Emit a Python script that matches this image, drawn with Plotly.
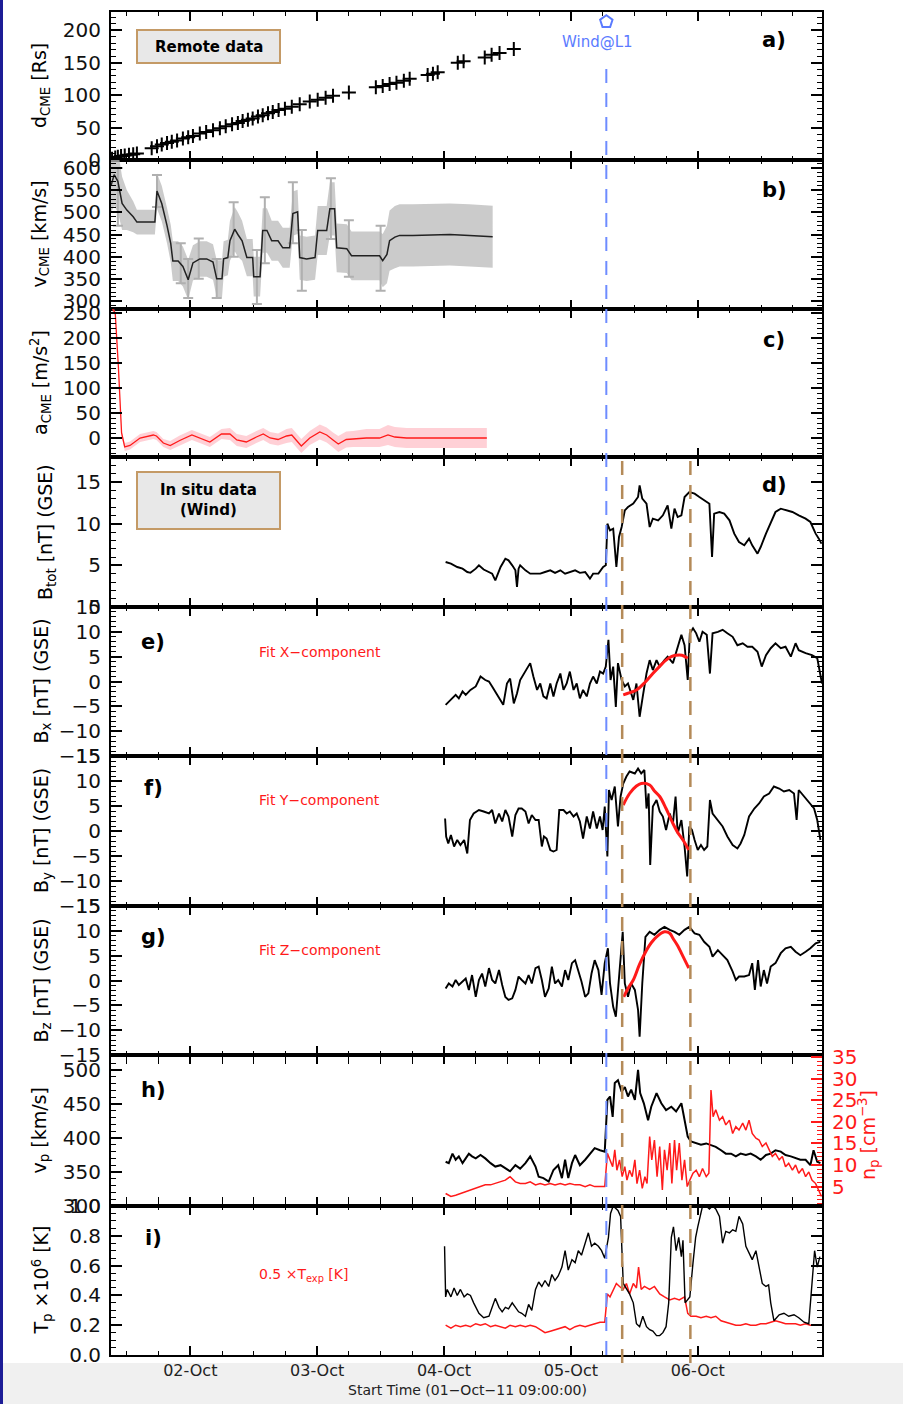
import plotly.graph_objects as go
import pandas as pd

# ---------------- time bases ----------------
START = pd.Timestamp("2011-10-01 09:00")
END = pd.Timestamp("2011-10-06 23:30")
INSITU0 = pd.Timestamp("2011-10-04 00:00")

# ---------------- panel a: CME distance (hours since START) ----------------
A_HOURS = [0.2, 0.8, 1.3, 1.9, 2.6, 3.4, 4.2, 4.9, 7.7, 8.7, 9.6, 10.6, 11.5, 12.5, 13.6, 14.6, 15.5,
           16.8, 18.0, 19.3, 20.6, 21.7, 22.9, 24.0, 24.9, 25.9, 26.8, 27.8, 28.7, 29.7, 30.6, 31.7,
           32.9, 34.2, 35.7, 37.6, 39.1, 40.6, 42.0, 45.0, 50.1, 51.4, 52.7, 54.0, 55.4, 56.5, 59.9,
           60.9, 61.8, 65.6, 66.7, 70.7, 72.0, 73.5, 76.2]
A_DIST = [2, 4, 5, 6, 7, 8, 9, 10, 18, 21, 24, 26, 28, 30, 33, 35, 37, 41, 43, 46, 49, 52, 55, 57, 60,
          62, 64, 67, 69, 72, 74, 77, 79, 82, 86, 90, 93, 96, 99, 104, 112, 114, 117, 119, 122, 125,
          131, 133, 135, 150, 152, 158, 162, 165, 171]

# ---------------- panel b: CME speed ----------------
B_HOURS = [0, 0.6, 1.3, 2.1, 3.0, 4.2, 4.9, 8.3, 8.7, 9.6, 10.6, 11.3, 11.7, 12.7, 13.6, 14.6, 15.5,
           16.8, 18.1, 19.3, 20.0, 21.0, 21.3, 22.1, 22.5, 23.4, 24.0, 24.8, 25.7, 26.8, 27.0, 28.2,
           28.7, 29.5, 30.4, 31.6, 32.5, 33.8, 34.4, 35.3, 35.7, 37.0, 38.6, 39.1, 40.8, 41.4, 42.3,
           42.7, 44.6, 45.5, 50.8, 51.4, 52.2, 52.7, 53.7, 54.6, 57.1, 64.1, 67.8, 72.2]
B_SPEED = [560, 585, 570, 520, 505, 490, 478, 478, 548, 520, 470, 430, 390, 390, 378, 348, 386,
           395, 395, 388, 350, 350, 395, 398, 436, 462, 450, 436, 398, 398, 355, 355,
           459, 459, 436, 436, 420, 420, 497, 501, 398, 395, 398, 459, 459, 508, 508,
           420, 418, 402, 402, 391, 405, 436, 444, 448, 448, 450, 448, 445]
B_ERR = [60, 70, 70, 60, 45, 35, 28, 28, 40, 40, 40, 42, 45, 45, 45, 45, 40,
         40, 40, 40, 42, 42, 40, 40, 45, 50, 50, 45, 42, 42, 45, 45,
         50, 50, 45, 45, 45, 45, 50, 50, 50, 50, 50, 55, 55, 60, 60,
         55, 55, 55, 55, 60, 65, 68, 70, 70, 70, 70, 70, 70]
W_HOURS = [1.3, 8.7, 13.2, 14.6, 16.6, 20.0, 23.2, 27.6, 29.1, 34.4, 36.1, 41.6, 45.0, 51.0]
W_CENTER = [570, 548, 385, 350, 395, 350, 460, 355, 459, 497, 398, 508, 418, 400]
W_HIGH = [600, 584, 430, 395, 441, 395, 523, 415, 534, 568, 460, 577, 482, 470]
W_LOW = [470, 512, 340, 307, 350, 307, 400, 293, 385, 430, 323, 440, 355, 323]

# ---------------- panel c: CME acceleration ----------------
C_HOURS = [0.3, 0.8, 1.4, 2.0, 2.6, 3.6, 5.5, 8.0, 8.6, 9.9, 11.2, 13.0, 15.3, 16.8, 18.7, 20.9,
           22.5, 23.8, 25.6, 27.5, 28.8, 30.1, 31.6, 33.2, 34.2, 36.0, 37.6, 39.5, 40.8, 42.0, 43.0,
           44.5, 45.8, 48.3, 50.8, 52.4, 53.7, 55.9, 60.0, 65.0, 71.1]
C_ACC = [258, 250, 142, 10, -18, -15, 0, 6, 4, -10, -15, -5, 6, 0, -8, 8,
         8, -4, -8, 2, 8, 0, -3, 4, 6, -16, 0, 12, 6, -4, -12,
         -3, -2, 0, 0, 6, 2, 0, 0, 0, 0]
C_ERR = [5, 5, 5, 6, 8, 8, 8, 8, 8, 8, 9, 10, 10, 10, 10, 10, 12, 12, 12, 12,
         12, 12, 12, 14, 14, 14, 14, 15, 15, 15, 16, 16, 16, 18, 18, 20, 20, 20, 20, 20, 20]

# ---------------- in situ (hours since 04-Oct 00:00) ----------------
D_HOURS = [0.3, 1.3, 2.5, 3.5, 4.4, 5.0, 6.0, 6.6, 7.5, 8.5, 9.1, 9.7, 10.7, 11.6, 12.2, 12.9, 13.5,
           13.8, 14.1, 14.4, 15.4, 16.3, 17.3, 18.2, 19.1, 20.1, 21.0, 22.0, 22.9, 23.8, 24.8, 25.7,
           26.7, 27.6, 28.2, 29.2, 30.1, 30.6, 30.9, 31.4, 32.0, 32.6, 33.1, 33.6, 34.2, 34.8, 35.8,
           36.7, 37.0, 37.5, 38.3, 38.9, 39.5, 40.5, 41.4, 42.3, 43.0, 43.6, 44.2, 44.9, 45.5, 46.4,
           47.4, 48.3, 49.2, 50.2, 50.7, 51.1, 52.1, 53.0, 54.0, 54.9, 55.8, 56.8, 57.7, 58.3, 59.3,
           59.9, 60.9, 61.8, 62.7, 63.7, 64.6, 65.9, 67.1, 68.4, 69.3, 70.3, 70.9, 71.4]
D_BTOT = [5.4, 5.2, 4.8, 4.6, 4.2, 4.1, 4.6, 5.0, 4.5, 4.2, 4.0, 3.2, 4.8, 5.8, 5.6, 5.0, 4.4,
          2.4, 4.6, 5.0, 4.4, 4.0, 4.0, 4.0, 4.2, 4.4, 4.1, 4.4, 4.0, 4.2, 4.4, 4.1,
          4.2, 3.4, 4.0, 4.0, 4.8, 5.0, 10.0, 9.2, 9.4, 4.8, 8.4, 9.6, 11.6, 12.0, 12.4,
          13.2, 14.6, 13.0, 12.4, 9.6, 10.6, 10.4, 11.0, 12.2, 9.4, 11.8, 10.8, 11.0, 13.2, 13.8,
          13.6, 13.2, 12.8, 12.4, 6.0, 11.2, 11.4, 11.2, 10.4, 8.8, 7.8, 7.4, 8.2, 7.4, 6.4,
          7.2, 8.8, 10.0, 11.4, 11.8, 11.6, 11.4, 11.0, 10.6, 10.2, 8.8, 8.2, 7.6]

E_HOURS = [0.3, 0.9, 1.6, 2.2, 2.8, 3.5, 4.1, 5.0, 6.0, 6.9, 7.8, 8.5, 9.1, 9.7, 10.4, 11.2, 11.9,
           12.5, 13.2, 13.8, 14.4, 15.4, 16.3, 16.9, 17.6, 18.2, 18.8, 19.4, 20.1, 20.7, 21.3, 22.0,
           22.6, 23.2, 23.8, 24.5, 25.1, 25.7, 26.3, 27.0, 27.6, 28.2, 28.9, 29.5, 30.1, 30.6, 31.1,
           31.5, 32.0, 32.5, 32.9, 33.6, 34.2, 34.8, 35.8, 36.4, 37.0, 37.6, 38.3, 38.9, 39.5, 40.2,
           40.8, 41.7, 42.3, 43.3, 44.2, 44.9, 45.5, 46.1, 46.5, 47.1, 47.7, 48.3, 48.9, 49.7, 50.3,
           50.8, 51.8, 52.7, 53.6, 54.6, 55.5, 56.5, 57.4, 58.3, 59.3, 60.1, 60.9, 61.8, 62.7, 63.7,
           64.6, 65.6, 66.5, 67.1, 68.4, 69.6, 70.6, 71.2, 71.5]
E_BX = [-4.7, -4.1, -3.4, -2.7, -3.4, -2.0, -2.7, -1.7, -1.0, 1.0, 0.3, 0.0, -1.0, -2.0, -3.4, -4.7, -0.4,
        0.6, -4.4, -2.4, 0.3, 2.0, 3.7, 1.0, -1.7, -0.4, -3.0, -3.4, -0.4, -3.0, -0.4, 1.6,
        -1.7, -0.4, 2.0, -1.7, -0.4, -3.4, -1.7, -3.0, -0.4, 1.0, -0.4, 2.0, 1.6, 3.0, 8.4,
        0.3, 3.0, -5.1, 3.7, 0.3, -1.0, -0.4, -3.7, -0.4, -7.1, -3.0, 1.6, 4.3, 2.3, 4.3,
        3.0, 4.3, 5.0, 3.7, 7.0, 9.4, 7.3, 0.3, 9.7, 10.7, 9.7, 8.0, 10.0, 9.4, 1.6,
        9.7, 10.0, 10.4, 9.7, 9.0, 7.3, 7.7, 7.0, 7.0, 6.0, 3.0, 5.3, 6.7, 7.7, 6.7,
        7.0, 5.0, 7.7, 6.3, 5.7, 5.3, 4.7, 1.0, -0.4]

F_HOURS = [0.2, 0.4, 0.8, 1.3, 1.9, 2.5, 3.1, 3.8, 4.4, 4.9, 5.6, 6.6, 7.5, 8.5, 9.1, 9.7, 10.4,
           11.0, 11.6, 12.2, 12.9, 13.5, 14.1, 14.7, 15.4, 16.0, 16.6, 17.3, 17.9, 18.5, 18.9, 19.4,
           20.1, 20.7, 21.3, 21.8, 22.6, 23.2, 23.8, 24.5, 25.1, 25.7, 26.3, 27.0, 27.6, 28.2, 28.9,
           29.5, 30.0, 30.4, 30.9, 31.2, 31.7, 32.3, 32.9, 33.4, 33.9, 34.5, 35.1, 36.1, 36.7, 37.3,
           37.9, 38.3, 38.7, 39.0, 39.5, 40.2, 40.8, 41.4, 42.0, 42.7, 43.3, 43.8, 44.2, 44.9, 45.5,
           46.0, 46.4, 46.9, 47.4, 48.0, 48.6, 49.2, 49.8, 50.3, 50.8, 51.8, 52.7, 53.6, 54.6, 55.5,
           56.1, 56.8, 57.7, 58.7, 59.6, 60.5, 61.5, 62.4, 63.4, 64.3, 65.3, 66.2, 66.7, 67.1, 68.1,
           69.0, 70.0, 70.6, 71.2]
F_BY = [2.5, -1.1, -2.5, -0.8, -3.1, -1.8, -2.8, -1.8, -4.5, 2.2, 3.5, 4.2, 3.9, 3.5, 4.2, 1.5, 3.5,
        1.9, 4.2, 2.9, -1.1, 3.2, 4.5, 4.5, 3.9, 1.5, 3.2, 2.2, 2.2, -3.1, -1.1, -1.5,
        -3.8, -4.1, -3.8, 4.2, 4.2, 3.5, 3.9, 2.9, 3.5, 1.9, -1.5, 2.9, 0.5, 3.9, 0.5,
        2.9, 0.2, 4.9, -5.1, 8.2, 6.2, 8.9, 0.9, 6.9, 9.5, 10.9, 11.9, 11.5, 12.5, 11.5,
        12.2, 4.5, 7.5, -6.8, 4.9, 6.2, 3.9, 2.9, 0.2, 3.5, 1.5, 6.9, -0.5, 2.2, -3.1,
        -9.1, 0.9, 0.2, -1.8, -3.8, -2.8, -3.8, -3.1, 6.2, 3.5, 2.2, 0.9, -1.1, -2.8, -3.5,
        -2.5, -0.8, 2.9, 4.5, 5.5, 6.9, 7.5, 8.9, 8.5, 7.9, 8.2, 7.5, 2.2, 8.2, 6.9,
        5.9, 4.5, 2.2, -1.8]

G_HOURS = [0.3, 0.9, 1.6, 2.2, 2.8, 3.5, 4.1, 4.7, 5.3, 6.0, 6.6, 7.2, 7.8, 8.5, 9.1, 9.7, 10.4,
           11.0, 11.6, 12.2, 12.9, 13.5, 14.1, 14.7, 15.4, 16.0, 16.6, 17.3, 17.9, 18.5, 19.1, 19.8,
           20.4, 21.0, 21.6, 22.3, 22.9, 23.5, 24.2, 24.8, 25.4, 26.0, 26.7, 27.3, 27.9, 28.5, 29.2,
           29.8, 30.4, 31.0, 31.4, 32.0, 32.5, 32.9, 33.4, 33.8, 34.2, 34.8, 35.4, 36.1, 36.7, 37.0,
           37.5, 38.1, 38.9, 39.8, 40.8, 41.7, 42.7, 43.6, 44.5, 45.5, 46.4, 47.4, 48.3, 49.2, 50.2,
           50.8, 51.8, 52.7, 53.6, 54.6, 55.2, 55.8, 56.8, 57.7, 58.3, 58.8, 59.4, 59.9, 60.5, 61.1,
           61.8, 62.7, 63.7, 64.6, 65.6, 66.5, 67.4, 68.4, 69.3, 70.3, 71.2]
G_BZ = [-1.6, -0.6, -1.2, 0.1, -0.9, -0.2, 0.4, -1.9, 1.1, -3.3, 0.1, 1.4, -1.2, 2.5, 0.1, -0.6, 2.1,
        -0.9, -3.3, -3.9, -3.6, -1.9, 0.8, 0.1, -0.6, 1.1, -0.6, 2.5, 2.8, 0.1, -3.3, -1.6,
        2.8, -0.6, 0.1, -1.2, 2.1, 0.1, 3.5, 4.1, 2.1, -0.2, -3.3, -2.6, 1.4, 4.1, 2.1,
        -2.9, 3.5, 6.5, -0.6, -5.3, -7.3, -1.9, 4.5, 9.8, -0.6, -3.3, -0.6, -1.9, -5.9, -11.3,
        -0.6, 8.8, 9.8, 9.2, 10.2, 10.8, 10.2, 9.8, 9.2, 10.2, 10.8, 9.5, 9.2, 7.8, 6.8,
        4.8, 6.1, 5.1, 4.1, 1.8, 0.1, 0.8, 0.8, 1.1, 3.5, -1.9, 4.1, -1.2, 2.1, -0.6,
        2.8, 3.5, 5.5, 6.5, 6.8, 5.8, 5.1, 5.8, 6.5, 7.5, 7.8]

FITX_HOURS = [33.9, 35.0, 36.4, 38.0, 39.5, 41.0, 42.0, 43.0, 43.9, 45.0, 46.1]
FITX_BX = [-2.7, -2.3, -1.7, -0.2, 1.6, 3.3, 4.3, 5.0, 5.3, 5.3, 4.7]
FITY_HOURS = [33.9, 35.1, 36.4, 37.3, 38.9, 39.8, 40.8, 42.0, 43.3, 44.2, 45.2, 46.3]
FITY_BY = [5.2, 7.5, 9.0, 9.5, 9.2, 8.0, 6.9, 4.5, 1.5, -0.3, -1.8, -3.8]
FITZ_HOURS = [34.0, 34.8, 35.8, 37.0, 38.3, 39.2, 40.2, 41.7, 42.7, 43.3, 44.2, 44.9, 46.3]
FITZ_BZ = [-3.3, -1.6, 0.1, 3.3, 6.1, 7.6, 8.8, 9.8, 9.5, 8.5, 7.0, 5.5, 2.5]

H_HOURS = [0.3, 0.9, 1.6, 2.2, 2.8, 3.5, 4.1, 4.7, 5.3, 6.0, 6.9, 7.8, 8.8, 9.7, 10.7, 11.6, 12.5,
           13.5, 14.4, 15.4, 16.3, 17.3, 17.9, 18.8, 19.8, 20.7, 21.6, 22.3, 22.9, 23.5, 24.2, 24.8,
           25.7, 26.7, 27.6, 28.5, 29.5, 30.4, 30.9, 31.4, 31.9, 32.3, 32.9, 33.6, 34.2, 34.8, 35.4,
           36.1, 36.7, 37.1, 37.8, 38.6, 39.2, 40.2, 41.1, 42.0, 43.0, 43.9, 44.9, 45.5, 46.1, 46.7,
           47.7, 48.6, 49.6, 50.5, 51.4, 52.4, 53.3, 54.3, 55.2, 56.1, 57.1, 58.0, 59.0, 59.9, 60.9,
           61.8, 62.7, 63.7, 64.6, 65.6, 66.5, 67.4, 68.4, 69.3, 69.9, 70.6, 71.2]
H_VP = [365, 363, 377, 368, 373, 363, 370, 377, 373, 370, 375, 370, 363, 358, 360, 355, 351,
        360, 355, 363, 373, 358, 343, 341, 336, 353, 360, 341, 368, 341, 363, 375,
        360, 368, 377, 385, 382, 380, 456, 461, 431, 481, 485, 468, 475, 461, 471,
        456, 500, 466, 451, 426, 446, 466, 451, 441, 446, 439, 451, 429, 402, 395,
        392, 390, 392, 390, 387, 382, 377, 377, 373, 377, 375, 377, 373, 368, 375,
        377, 382, 380, 375, 373, 370, 368, 368, 360, 382, 365, 363]

N_HOURS = [0.3, 1.3, 2.2, 3.1, 4.1, 5.0, 6.0, 6.9, 7.8, 8.8, 9.7, 10.7, 11.6, 12.5, 13.5, 14.4, 15.4,
           16.3, 17.3, 18.2, 19.1, 20.1, 21.0, 22.0, 22.9, 23.8, 24.8, 25.7, 26.7, 27.6, 28.5, 29.5,
           30.4, 30.9, 31.4, 31.9, 32.3, 32.7, 33.2, 33.7, 34.2, 34.6, 35.1, 35.6, 36.1, 36.5, 37.0,
           37.5, 38.0, 38.4, 38.9, 39.3, 39.8, 40.3, 40.8, 41.3, 41.7, 42.2, 42.7, 43.1, 43.6, 44.0,
           44.5, 45.0, 45.5, 46.0, 46.5, 47.1, 47.7, 48.3, 48.9, 49.6, 50.1, 50.5, 50.9, 51.4, 52.1,
           52.7, 53.3, 54.0, 54.6, 55.2, 55.8, 56.5, 57.1, 57.7, 58.3, 59.0, 59.6, 60.2, 60.9, 61.5,
           62.1, 62.7, 63.4, 64.0, 64.6, 65.2, 65.9, 66.5, 67.1, 67.8, 68.4, 69.0, 69.6, 70.3, 70.9,
           71.4]
N_NP = [3.4, 2.7, 3.0, 3.4, 3.8, 4.2, 4.6, 5.0, 5.4, 5.4, 5.7, 6.1, 6.5, 7.3, 6.1, 5.7, 5.7,
        6.1, 5.4, 5.7, 5.4, 5.7, 5.4, 5.7, 5.4, 5.7, 5.4, 5.4, 5.0, 5.4, 5.0, 5.0,
        5.0, 12.7, 11.2, 9.6, 13.5, 8.8, 11.2, 7.3, 9.6, 6.5, 8.8, 7.3, 11.2, 5.7, 8.8,
        4.6, 7.3, 5.7, 16.6, 11.2, 15.8, 7.3, 14.3, 4.2, 13.5, 8.8, 15.1, 5.7, 15.8, 8.8,
        15.1, 6.5, 11.2, 5.0, 6.5, 8.1, 8.8, 7.3, 9.2, 7.3, 8.1, 27.4, 21.2, 22.8, 20.4,
        21.2, 19.3, 20.4, 17.3, 18.9, 18.1, 19.7, 18.1, 20.4, 17.3, 16.2, 15.8, 14.3, 15.1, 13.5,
        12.0, 12.7, 11.2, 12.0, 9.6, 10.4, 8.8, 10.0, 8.1, 9.2, 7.3, 8.4, 6.5, 5.7, 4.2,
        2.7]

T_HOURS = [0.1, 0.3, 0.6, 1.3, 1.9, 2.5, 3.1, 3.8, 4.4, 5.0, 5.6, 6.6, 7.5, 8.5, 9.1, 9.7, 10.4,
           11.0, 11.6, 12.2, 12.9, 13.5, 14.1, 14.7, 15.4, 16.0, 16.6, 17.3, 17.9, 18.5, 19.1, 19.8,
           20.4, 21.0, 21.6, 22.3, 22.9, 23.5, 24.2, 24.8, 25.4, 26.0, 26.7, 27.3, 27.9, 28.5, 29.2,
           29.8, 30.4, 31.1, 31.5, 32.0, 32.9, 33.4, 33.9, 34.5, 35.1, 35.8, 36.4, 37.0, 37.6, 38.3,
           38.9, 39.5, 40.2, 40.8, 41.4, 42.0, 42.5, 43.0, 43.4, 43.9, 44.4, 44.9, 45.2, 45.6, 46.1,
           46.5, 47.1, 47.6, 48.0, 48.5, 48.9, 49.6, 50.2, 50.8, 51.4, 52.1, 52.7, 53.3, 54.0, 54.6,
           55.2, 55.8, 56.5, 57.1, 57.7, 58.3, 59.0, 59.6, 60.2, 60.9, 61.4, 61.8, 62.4, 63.4, 64.3,
           65.2, 66.2, 67.1, 68.1, 69.0, 69.6, 70.1, 70.6, 71.1]
T_TP = [0.73, 0.39, 0.44, 0.39, 0.45, 0.40, 0.44, 0.39, 0.41, 0.40, 0.35, 0.28, 0.25, 0.26, 0.32, 0.38, 0.32,
        0.29, 0.32, 0.31, 0.35, 0.32, 0.29, 0.28, 0.26, 0.34, 0.30, 0.44, 0.49, 0.46, 0.50, 0.46,
        0.54, 0.50, 0.53, 0.59, 0.70, 0.57, 0.64, 0.62, 0.70, 0.67, 0.75, 0.82, 0.73, 0.75, 0.73,
        0.70, 0.65, 0.79, 0.95, 1.00, 0.97, 0.93, 0.48, 0.44, 0.41, 0.35, 0.21, 0.19, 0.26, 0.19,
        0.17, 0.16, 0.13, 0.13, 0.15, 0.19, 0.35, 0.79, 0.86, 0.70, 0.79, 0.66, 0.77, 0.35, 0.37,
        0.39, 0.62, 0.79, 0.86, 0.95, 1.00, 1.00, 0.98, 1.00, 0.98, 0.93, 0.75, 0.83, 0.82, 0.84,
        0.83, 0.93, 0.88, 0.73, 0.68, 0.64, 0.70, 0.59, 0.48, 0.46, 0.47, 0.35, 0.23, 0.27, 0.28,
        0.26, 0.27, 0.25, 0.22, 0.21, 0.48, 0.70, 0.59, 0.66]

TX_HOURS = [0.3, 1.3, 2.2, 3.1, 4.1, 5.0, 6.0, 6.9, 7.8, 8.8, 9.7, 10.7, 11.6, 12.5, 13.5, 14.4, 15.4,
            16.3, 17.3, 18.2, 19.1, 20.1, 21.0, 22.0, 22.9, 23.8, 24.8, 25.7, 26.7, 27.6, 28.5, 29.5,
            30.4, 30.9, 31.4, 32.0, 32.6, 33.2, 33.9, 34.5, 35.1, 35.8, 36.4, 36.8, 37.3, 37.9, 38.9,
            39.8, 40.8, 41.7, 42.7, 43.6, 44.5, 45.5, 46.1, 46.7, 47.7, 48.6, 49.6, 50.5, 51.4, 52.4,
            53.3, 54.3, 55.2, 56.1, 57.1, 58.0, 59.0, 59.9, 60.9, 61.8, 62.7, 63.7, 64.6, 65.6, 66.5,
            67.4, 68.4, 69.3, 70.3, 71.2]
TX_TEXP = [0.20, 0.18, 0.20, 0.19, 0.20, 0.19, 0.21, 0.20, 0.21, 0.19, 0.20, 0.19, 0.18, 0.20, 0.19, 0.20, 0.19,
           0.20, 0.19, 0.17, 0.15, 0.16, 0.17, 0.18, 0.19, 0.17, 0.19, 0.20, 0.19, 0.20, 0.21, 0.22,
           0.22, 0.41, 0.39, 0.44, 0.48, 0.46, 0.44, 0.48, 0.41, 0.48, 0.45, 0.59, 0.44, 0.46, 0.44,
           0.46, 0.41, 0.39, 0.37, 0.38, 0.37, 0.39, 0.28, 0.26, 0.26, 0.25, 0.26, 0.25, 0.26, 0.23,
           0.22, 0.21, 0.20, 0.20, 0.21, 0.20, 0.20, 0.21, 0.21, 0.22, 0.23, 0.22, 0.21, 0.21, 0.21,
           0.20, 0.21, 0.20, 0.20, 0.20]

# event times (hours since 04-Oct 00:00)
WIND_ARRIVAL_H = 30.7
MC_START_H = 33.7
MC_END_H = 46.6

# ---------------- helpers ----------------
def tr(h):
    return [START + pd.Timedelta(hours=x) for x in h]

def ti(h):
    return [INSITU0 + pd.Timedelta(hours=x) for x in h]

W, H = 903, 1404
ML, MR, MT, MB = 111, 81, 12, 49
PW = W - ML - MR
PH = H - MT - MB

def px(x):
    return (x - ML) / PW

def py(y):
    return (H - MB - y) / PH

PANELS = [(12, 160), (160, 309), (309, 457), (457, 607), (607, 756),
          (756, 906), (906, 1055), (1055, 1206), (1206, 1355)]

FONT = "DejaVu Sans"
RED = "#ff1a1a"
INSITU_W = 1.9

fig = go.Figure()

def ax(k):
    return ("x" if k == 1 else f"x{k}"), ("y" if k == 1 else f"y{k}")

# a) distance
xa, ya = ax(1)
fig.add_trace(go.Scatter(x=tr(A_HOURS), y=A_DIST, mode="markers", xaxis=xa, yaxis=ya,
                         marker=dict(symbol="cross-thin", size=10, line=dict(color="black", width=2))))
fig.add_trace(go.Scatter(x=ti([WIND_ARRIVAL_H]), y=[213], mode="markers", xaxis=xa, yaxis=ya,
                         cliponaxis=False,
                         marker=dict(symbol="pentagon-open", size=13, color="#5b7bff",
                                     line=dict(color="#5b7bff", width=2))))

# b) speed
xb, yb = ax(2)
fig.add_trace(go.Scatter(x=tr(B_HOURS), y=[v - e for v, e in zip(B_SPEED, B_ERR)], mode="lines",
                         line=dict(width=0, color="rgba(0,0,0,0)"), xaxis=xb, yaxis=yb))
fig.add_trace(go.Scatter(x=tr(B_HOURS), y=[v + e for v, e in zip(B_SPEED, B_ERR)], mode="lines",
                         fill="tonexty", fillcolor="rgba(185,185,185,0.75)",
                         line=dict(width=0, color="rgba(0,0,0,0)"), xaxis=xb, yaxis=yb))
fig.add_trace(go.Scatter(x=tr(W_HOURS), y=W_CENTER, mode="markers", xaxis=xb, yaxis=yb,
                         marker=dict(size=1, color="rgba(0,0,0,0)"),
                         error_y=dict(type="data", symmetric=False,
                                      array=[h - c for h, c in zip(W_HIGH, W_CENTER)],
                                      arrayminus=[c - l for c, l in zip(W_CENTER, W_LOW)],
                                      color="#b0b0b0", thickness=2, width=5)))
fig.add_trace(go.Scatter(x=tr(B_HOURS), y=B_SPEED, mode="lines", xaxis=xb, yaxis=yb,
                         line=dict(color="#222222", width=1.5)))

# c) acceleration
xc, yc = ax(3)
fig.add_trace(go.Scatter(x=tr(C_HOURS), y=[v - e for v, e in zip(C_ACC, C_ERR)], mode="lines",
                         line=dict(width=0, color="rgba(0,0,0,0)"), xaxis=xc, yaxis=yc))
fig.add_trace(go.Scatter(x=tr(C_HOURS), y=[v + e for v, e in zip(C_ACC, C_ERR)], mode="lines",
                         fill="tonexty", fillcolor="rgba(255,150,165,0.45)",
                         line=dict(width=0, color="rgba(0,0,0,0)"), xaxis=xc, yaxis=yc))
fig.add_trace(go.Scatter(x=tr(C_HOURS), y=C_ACC, mode="lines", xaxis=xc, yaxis=yc,
                         line=dict(color=RED, width=1.3)))

# d) Btot
xd, yd = ax(4)
fig.add_trace(go.Scatter(x=ti(D_HOURS), y=D_BTOT, mode="lines", xaxis=xd, yaxis=yd,
                         line=dict(color="black", width=INSITU_W)))
# e) Bx
xe, ye = ax(5)
fig.add_trace(go.Scatter(x=ti(E_HOURS), y=E_BX, mode="lines", xaxis=xe, yaxis=ye,
                         line=dict(color="black", width=INSITU_W)))
fig.add_trace(go.Scatter(x=ti(FITX_HOURS), y=FITX_BX, mode="lines", xaxis=xe, yaxis=ye,
                         line=dict(color=RED, width=3, shape="spline")))
# f) By
xf, yf = ax(6)
fig.add_trace(go.Scatter(x=ti(F_HOURS), y=F_BY, mode="lines", xaxis=xf, yaxis=yf,
                         line=dict(color="black", width=INSITU_W)))
fig.add_trace(go.Scatter(x=ti(FITY_HOURS), y=FITY_BY, mode="lines", xaxis=xf, yaxis=yf,
                         line=dict(color=RED, width=3, shape="spline")))
# g) Bz
xg, yg = ax(7)
fig.add_trace(go.Scatter(x=ti(G_HOURS), y=G_BZ, mode="lines", xaxis=xg, yaxis=yg,
                         line=dict(color="black", width=INSITU_W)))
fig.add_trace(go.Scatter(x=ti(FITZ_HOURS), y=FITZ_BZ, mode="lines", xaxis=xg, yaxis=yg,
                         line=dict(color=RED, width=3, shape="spline")))
# h) vp and np
xh, yh = ax(8)
fig.add_trace(go.Scatter(x=ti(N_HOURS), y=N_NP, mode="lines", xaxis=xh, yaxis="y10",
                         line=dict(color=RED, width=1.5)))
fig.add_trace(go.Scatter(x=ti(H_HOURS), y=H_VP, mode="lines", xaxis=xh, yaxis=yh,
                         line=dict(color="black", width=2.0)))
# i) temperatures
xi, yi = ax(9)
fig.add_trace(go.Scatter(x=ti(TX_HOURS), y=TX_TEXP, mode="lines", xaxis=xi, yaxis=yi,
                         line=dict(color=RED, width=1.5)))
fig.add_trace(go.Scatter(x=ti(T_HOURS), y=T_TP, mode="lines", xaxis=xi, yaxis=yi,
                         line=dict(color="black", width=1.4)))

# ---------------- axes ----------------
YSPEC = [
    dict(range=[0, 228], dtick=50, minor=10),
    dict(range=[282, 618], dtick=50, minor=10),
    dict(range=[-38, 258], dtick=50, minor=10),
    dict(range=[0, 18], dtick=5, minor=1),
    dict(range=[-15, 15], dtick=5, minor=1),
    dict(range=[-15, 15], dtick=5, minor=1),
    dict(range=[-15, 15], dtick=5, minor=1),
    dict(range=[300, 522], dtick=50, minor=10),
    dict(range=[0, 1.0], dtick=0.2, minor=0.05),
]

layout = dict(width=W, height=H, margin=dict(l=ML, r=MR, t=MT, b=MB, autoexpand=False),
              paper_bgcolor="white", plot_bgcolor="white", showlegend=False,
              font=dict(family=FONT, color="black"))

for k in range(1, 10):
    top, bot = PANELS[k - 1]
    xname = "xaxis" if k == 1 else f"xaxis{k}"
    yname = "yaxis" if k == 1 else f"yaxis{k}"
    xa_, ya_ = ax(k)
    xdef = dict(domain=[0, 1], anchor=ya_, type="date", automargin=False,
                range=[START.strftime("%Y-%m-%d %H:%M:%S"), END.strftime("%Y-%m-%d %H:%M:%S")],
                showline=True, linecolor="black", linewidth=2, mirror="allticks",
                ticks="inside", ticklen=9, tickwidth=1.5, tickcolor="black",
                tick0="2011-10-02", dtick=86400000, tickformat="%d-%b",
                showticklabels=(k == 9), tickfont=dict(family=FONT, size=16, color="#222222"),
                minor=dict(ticks="inside", ticklen=4, dtick=6 * 3600000, tickcolor="black", tickwidth=1),
                showgrid=False, zeroline=False)
    if k > 1:
        xdef["matches"] = "x"
    layout[xname] = xdef
    s = YSPEC[k - 1]
    ydef = dict(domain=[py(bot), py(top)], anchor=xa_, range=s["range"], dtick=s["dtick"], tick0=0,
                automargin=False,
                showline=True, linecolor="black", linewidth=2,
                mirror=(False if k == 8 else "allticks"),
                ticks="inside", ticklen=11, tickwidth=1.5, tickcolor="black",
                tickfont=dict(family=FONT, size=20, color="#111111"), ticklabelstandoff=4,
                minor=dict(ticks="inside", ticklen=5, dtick=s["minor"], tickcolor="black", tickwidth=1),
                showgrid=False, zeroline=False)
    if k == 9:
        ydef["tickformat"] = ".1f"
    layout[yname] = ydef

layout["yaxis10"] = dict(overlaying="y8", side="right", anchor="x8", range=[0.5, 35.5], dtick=5, tick0=0,
                         automargin=False,
                         showline=True, linecolor="black", linewidth=2,
                         ticks="inside", ticklen=11, tickwidth=1.5, tickcolor=RED,
                         tickfont=dict(family=FONT, size=20, color=RED), ticklabelstandoff=4,
                         minor=dict(ticks="inside", ticklen=5, dtick=1, tickcolor=RED, tickwidth=1),
                         showgrid=False, zeroline=False)

fig.update_layout(**layout)

# ---------------- shapes ----------------
shapes = []
shapes.append(dict(type="rect", xref="paper", yref="paper", x0=px(0), x1=px(903), y0=py(1404), y1=py(1363),
                   fillcolor="#f0f0f0", line=dict(width=0), layer="below"))
shapes.append(dict(type="rect", xref="paper", yref="paper", x0=px(0), x1=px(3), y0=py(1404), y1=py(0),
                   fillcolor="#1c1c96", line=dict(width=0), layer="above"))
shapes.append(dict(type="rect", xref="paper", yref="paper", x0=px(137), x1=px(280), y0=py(63), y1=py(30),
                   fillcolor="#e8e8e8", line=dict(color="#c49a66", width=2)))
shapes.append(dict(type="rect", xref="paper", yref="paper", x0=px(137), x1=px(280), y0=py(529), y1=py(472),
                   fillcolor="#e8e8e8", line=dict(color="#c49a66", width=2)))
t_wind = INSITU0 + pd.Timedelta(hours=WIND_ARRIVAL_H)
for hh in (MC_START_H, MC_END_H):
    tb = INSITU0 + pd.Timedelta(hours=hh)
    shapes.append(dict(type="line", xref="x", yref="paper", x0=tb, x1=tb, y0=py(1363), y1=py(457),
                       line=dict(color="#b48a58", width=2.5, dash="14px,10px")))
shapes.append(dict(type="line", xref="x", yref="paper", x0=t_wind, x1=t_wind, y0=py(1355), y1=py(64),
                   line=dict(color="#6e8cff", width=2, dash="14px,10px")))
fig.update_layout(shapes=shapes)

# ---------------- annotations ----------------
ann = []
def A(text, x, y, size=15, color="black", xanchor="center", angle=0, xref="paper", bold=False, xshift=0):
    if bold:
        text = f"<b>{text}</b>"
    ann.append(dict(text=text, x=x, y=y, xref=xref, yref="paper", showarrow=False, xanchor=xanchor,
                    yanchor="middle", textangle=angle, xshift=xshift,
                    font=dict(family=FONT, size=size, color=color)))

A("Remote data", px(208.5), py(46.5), size=15, bold=True)
A("In situ data<br>(Wind)", px(208.5), py(500), size=15, bold=True)
A("Wind@L1", t_wind, py(42), size=15, color="#5b7bff", xref="x", xshift=-9)

for lab, xx, yy in [("a)", 774, 40), ("b)", 774, 190), ("c)", 774, 340), ("d)", 774, 485),
                    ("e)", 153, 642), ("f)", 153, 788), ("g)", 153, 937), ("h)", 153, 1090),
                    ("i)", 153, 1238)]:
    A(lab, px(xx), py(yy), size=21, bold=True)

A("Fit X\u2212component", px(257), py(652), size=14, color=RED, xanchor="left")
A("Fit Y\u2212component", px(257), py(800), size=14, color=RED, xanchor="left")
A("Fit Z\u2212component", px(257), py(950), size=14, color=RED, xanchor="left")
A("0.5 \u00d7T<sub>exp</sub> [K]", px(257), py(1275), size=14, color=RED, xanchor="left")

YTITLES = ["d<sub>CME</sub> [Rs]", "v<sub>CME</sub> [km/s]", "a<sub>CME</sub> [m/s<sup>2</sup>]",
           "B<sub>tot</sub> [nT] (GSE)", "B<sub>x</sub> [nT] (GSE)", "B<sub>y</sub> [nT] (GSE)",
           "B<sub>z</sub> [nT] (GSE)", "v<sub>p</sub> [km/s]", "T<sub>p</sub> \u00d710<sup>6</sup> [K]"]
YTX = [40, 40, 40, 46, 42, 42, 42, 40, 42]
for k, t in enumerate(YTITLES):
    top, bot = PANELS[k]
    A(t, px(YTX[k]), py((top + bot) / 2), size=19, angle=-90)

A("n<sub>p</sub> [cm<sup>\u22123</sup>]", px(868), py(1135), size=19, color=RED, angle=-90)
A("Start Time (01\u2212Oct\u221211 09:00:00)", px(467), py(1390), size=14, color="#222222")

fig.update_layout(annotations=ann)
fig.write_html("out.html", config={"displayModeBar": False},
               post_script="document.body.style.margin='0';document.body.style.overflow='hidden';")
